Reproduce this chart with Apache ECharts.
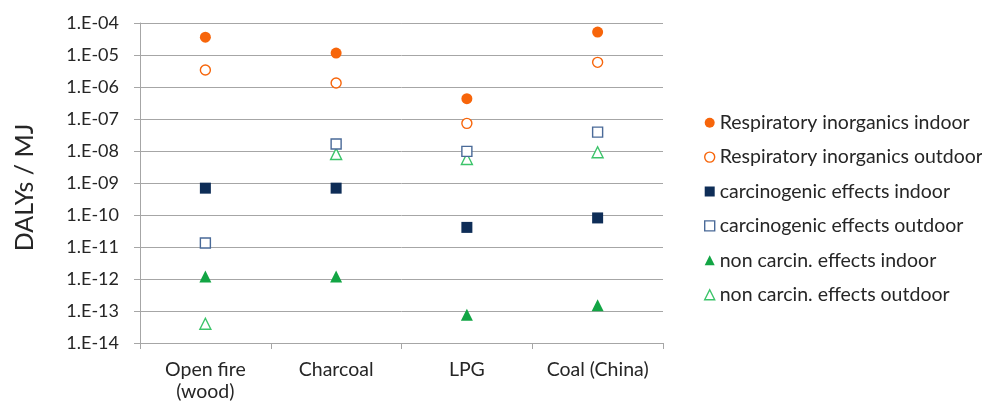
<!DOCTYPE html>
<html><head><meta charset="utf-8">
<script src="https://cdn.jsdelivr.net/npm/echarts@6/dist/echarts.min.js"></script>
<style>html,body{margin:0;padding:0;background:#fff}#c{width:982px;height:405px}</style>
</head><body><div id="c"></div>
<script>
const categories = ['Open fire\n(wood)', 'Charcoal', 'LPG', 'Coal (China)'];
const respIndoor  = [3.6e-5, 1.15e-5, 4.3e-7, 5.2e-5];
const respOutdoor = [3.4e-6, 1.33e-6, 7.3e-8, 5.9e-6];
const carcIndoor  = [6.9e-10, 6.9e-10, 4.1e-11, 8.1e-11];
const carcOutdoor = [1.33e-11, 1.66e-8, 9.7e-9, 3.9e-8];
const nonIndoor   = [1.2e-12, 1.2e-12, 7.6e-14, 1.5e-13];
const nonOutdoor  = [4.0e-14, 8.1e-9, 5.6e-9, 9.1e-9];
const seriesNames = ['Respiratory inorganics indoor','Respiratory inorganics outdoor','carcinogenic effects indoor','carcinogenic effects outdoor','non carcin. effects indoor','non carcin. effects outdoor'];
const yTitle = 'DALYs / MJ';
const yMin = 1e-14, yMax = 1e-4;

const FONT = 'Lato';
const orange = '#F7650A', navy = '#0E2D57', steel = '#4A6A98', green = '#12A544', lgreen = '#3CC46A';
const styles = [
  {symbol:'circle', size:11, item:{color:orange, opacity:1}},
  {symbol:'circle', size:10, item:{color:'#fff', borderColor:orange, borderWidth:1.4, opacity:1}},
  {symbol:'rect', size:11, item:{color:navy, opacity:1}},
  {symbol:'rect', size:10, item:{color:'#fff', borderColor:steel, borderWidth:1.4, opacity:1}},
  {symbol:'triangle', size:12, item:{color:green, opacity:1}},
  {symbol:'triangle', size:11, item:{color:'#fff', borderColor:lgreen, borderWidth:1.4, opacity:1}}
];
const values = [respIndoor, respOutdoor, carcIndoor, carcOutdoor, nonIndoor, nonOutdoor];

const chart = echarts.init(document.getElementById('c'), null, {renderer:'canvas'});
chart.setOption({
  animation:false,
  backgroundColor:'#fff',
  grid:{left:140, right:319, top:23, bottom:62, containLabel:false},
  graphic:[{
    type:'text', x:25, y:187.5, rotation:Math.PI/2,
    style:{text:yTitle, fontFamily:FONT, fontSize:25, fill:'#262626', align:'center', verticalAlign:'middle'}
  }],
  legend:{
    orient:'vertical', left:699, top:107.7, itemWidth:10, itemHeight:10, itemGap:14.4,
    textStyle:{fontFamily:FONT, fontSize:19.5, lineHeight:20, color:'#262626'},
    data: seriesNames.map((n,i)=>({name:n, icon:styles[i].symbol, itemStyle:styles[i].item}))
  },
  xAxis:{
    type:'category', data:categories, boundaryGap:true,
    axisLine:{lineStyle:{color:'#A6A6A6', width:1}},
    axisTick:{show:true, length:6, lineStyle:{color:'#A6A6A6'}},
    axisLabel:{fontFamily:FONT, fontSize:19.5, color:'#262626', margin:16, lineHeight:22, interval:0}
  },
  yAxis:{
    type:'log', logBase:10, min:yMin, max:yMax, interval:1,
    axisLine:{show:true, lineStyle:{color:'#A6A6A6', width:1}},
    axisTick:{show:true, length:6, lineStyle:{color:'#A6A6A6'}},
    splitLine:{show:true, lineStyle:{color:'#A6A6A6', width:1}},
    minorTick:{show:false}, minorSplitLine:{show:false},
    axisLabel:{fontFamily:FONT, fontSize:18, color:'#262626', margin:21,
      formatter:v=>{const e=Math.round(Math.log10(v));const a=Math.abs(e);return '1.E'+(e<0?'-':'+')+(a<10?'0':'')+a;}}
  },
  series: values.map((vals,i)=>({
    name:seriesNames[i], type:'scatter', symbol:styles[i].symbol, symbolSize:styles[i].size,
    itemStyle:styles[i].item, data:vals, z:10-i
  }))
});
</script></body></html>
